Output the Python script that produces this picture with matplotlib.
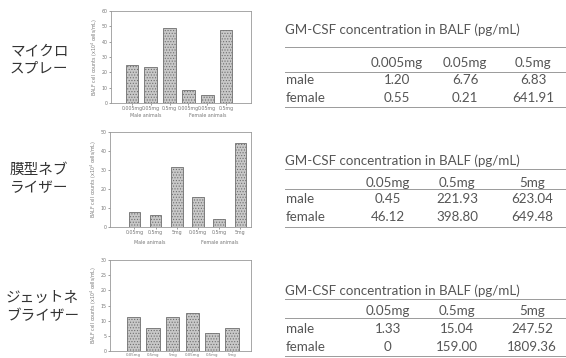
import numpy as np
import matplotlib
matplotlib.use("Agg")
import matplotlib.pyplot as plt

W, H = 566, 358

# device names (left column)
devices = ["マイクロ\nスプレー", "膜型ネブ\nライザー", "ジェットネ\nブライザー"]

# BALF cell counts, male x3 doses then female x3 doses
counts_micro = [25.0, 23.8, 48.7, 8.3, 5.2, 47.6]
counts_membrane = [7.7, 6.5, 31.8, 15.9, 4.4, 44.4]
counts_jet = [11.1, 7.6, 11.1, 12.4, 5.8, 7.7]

doses_micro = ["0.005mg", "0.05mg", "0.5mg"]
doses_neb = ["0.05mg", "0.5mg", "5mg"]
groups = ["Male animals", "Female animals"]

ymax = [60, 50, 30]
ystep = [10, 10, 5]

# GM-CSF table values (pg/mL)
gm_micro = {"male": ["1.20", "6.76", "6.83"], "female": ["0.55", "0.21", "641.91"]}
gm_membrane = {"male": ["0.45", "221.93", "623.04"], "female": ["46.12", "398.80", "649.48"]}
gm_jet = {"male": ["1.33", "15.04", "247.52"], "female": ["0", "159.00", "1809.36"]}

table_title = "GM-CSF concentration in BALF (pg/mL)"

plt.rcParams['hatch.color'] = '#9a9a9a'
plt.rcParams['hatch.linewidth'] = 0.5

fig = plt.figure(figsize=(W / 100, H / 100), dpi=100)
fig.patch.set_facecolor("white")


def px_axes(x0, y0, x1, y1):
    return fig.add_axes([x0 / W, 1 - y1 / H, (x1 - x0) / W, (y1 - y0) / H])


def fx(x):
    return x / W


def fy(y):
    return 1 - y / H


def bar_panel(box, counts, doses, top, step, xlim, width, group_off=None,
              xsize=3.4):
    ax = px_axes(*box)
    x = np.arange(len(counts))
    ax.bar(x, counts, width=width, color='#c8c8c8', edgecolor='#6f6f6f',
           linewidth=0.6, hatch='......')
    ax.set_xlim(*xlim)
    ax.set_ylim(0, top)
    ax.set_yticks(np.arange(0, top + 1, step))
    ax.set_xticks(x)
    ax.set_xticklabels(doses * 2)
    ax.tick_params(labelsize=3.4, colors='#777777', length=1.5, width=0.5, pad=1)
    ax.tick_params(axis='x', labelsize=xsize)
    for s in ax.spines.values():
        s.set_color('#999999')
        s.set_linewidth(0.6)
    ax.set_ylabel("BALF cell counts (x10$^4$ cells/mL)", fontsize=3.4,
                  color='#777777', labelpad=1)
    # the bottom panel has no room for its group labels
    if group_off is not None:
        for gx, g in zip((0.7, 4.0), groups):
            ax.text(gx, -group_off, g, transform=ax.get_xaxis_transform(),
                    ha='center', va='top', fontsize=3.4, color='#777777')
    return ax


bar_panel((111, 11, 251, 103), counts_micro, doses_micro, ymax[0], ystep[0],
          (-1.12, 6.33), 0.68, group_off=0.105)
bar_panel((110, 132, 251, 227), counts_membrane, doses_neb, ymax[1], ystep[1],
          (-1.15, 5.5), 0.55, group_off=0.14)
ax3 = bar_panel((110, 260, 251, 351), counts_jet, doses_neb, ymax[2], ystep[2],
                (-1.18, 5.97), 0.68, xsize=2.8)
ax3.tick_params(axis='x', length=1, pad=0.4)

# device labels
label_pos = [(10, 60), (10, 179), (6, 307)]
for name, (lx, ly) in zip(devices, label_pos):
    fig.text(fx(lx), fy(ly), name, ha='left', va='center', fontsize=10.5,
             family=['Noto Sans CJK JP', 'DejaVu Sans'], color='#333333',
             linespacing=1.35)


def draw_table(title_y, top_line, head_y, mid_line, male_y, female_y, bottom_line,
               doses, values, cols):
    txt = dict(fontsize=9.6, family=['Lato', 'DejaVu Sans'], color='#555555')
    fig.text(fx(285), fy(title_y), table_title, ha='left', va='center', **txt)
    for ly in (top_line, mid_line, bottom_line):
        fig.add_artist(plt.Line2D([fx(285), fx(566)], [fy(ly), fy(ly)],
                                  color='#9a9a9a', lw=0.7))
    for cx, d in zip(cols, doses):
        fig.text(fx(cx), fy(head_y), d, ha='center', va='center', **txt)
    for row, ry in (("male", male_y), ("female", female_y)):
        fig.text(fx(286), fy(ry), row, ha='left', va='center', **txt)
        for cx, v in zip(cols, values[row]):
            fig.text(fx(cx), fy(ry), v, ha='center', va='center', **txt)


draw_table(30, 47, 63, 72, 80, 98, 107, doses_micro, gm_micro, (397, 465, 533))
draw_table(161, 169, 183, 189, 199, 217, 227, doses_neb, gm_membrane, (388, 457, 532))
draw_table(291, 299, 311, 318, 329, 347, 356, doses_neb, gm_jet, (388, 457, 532))

fig.savefig("out.png", dpi=100)
